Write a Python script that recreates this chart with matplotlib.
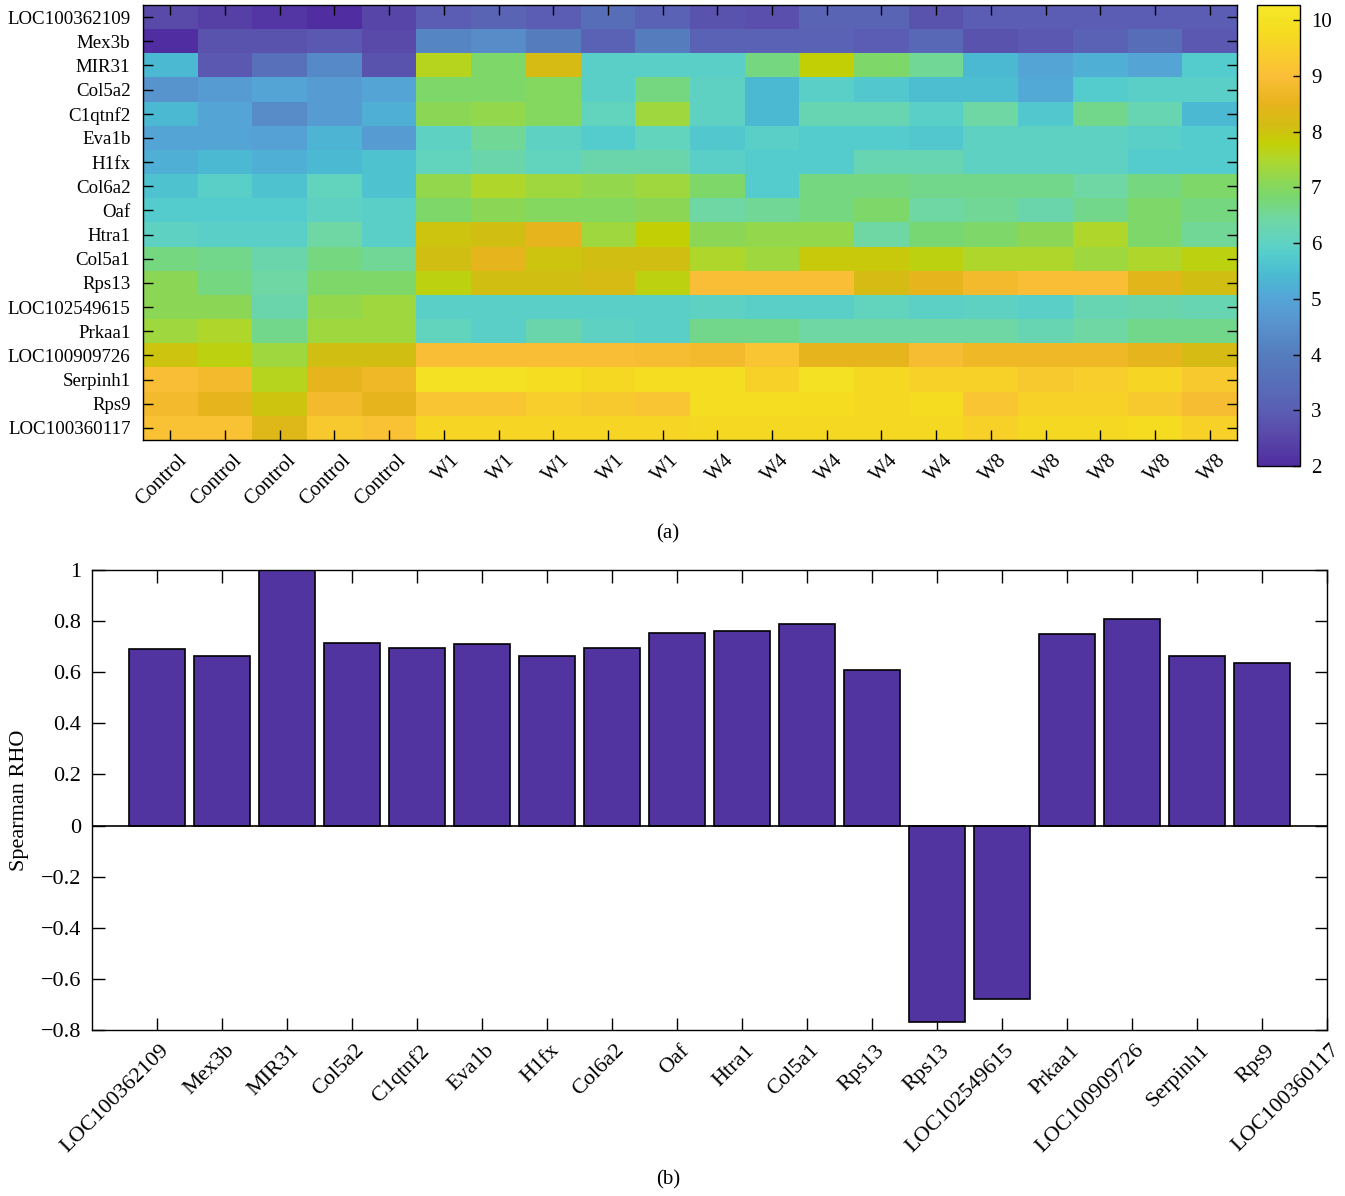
import matplotlib
matplotlib.use('Agg')
import matplotlib.pyplot as plt
import matplotlib.transforms as mtransforms
import numpy as np
from matplotlib.colors import LinearSegmentedColormap

plt.rcParams['font.family'] = ['Liberation Serif', 'DejaVu Serif']
plt.rcParams['font.size'] = 14

genes = ['LOC100362109', 'Mex3b', 'MIR31', 'Col5a2', 'C1qtnf2', 'Eva1b', 'H1fx',
         'Col6a2', 'Oaf', 'Htra1', 'Col5a1', 'Rps13', 'LOC102549615', 'Prkaa1',
         'LOC100909726', 'Serpinh1', 'Rps9', 'LOC100360117']
samples = ['Control'] * 5 + ['W1'] * 5 + ['W4'] * 5 + ['W8'] * 5

# expression, one row per gene, columns = samples
expr = [
    [2.6, 2.4, 2.2, 2.0, 2.5, 3.0, 3.2, 3.0, 3.5, 3.1, 2.8, 2.7, 3.2, 3.2, 2.8, 3.0, 3.0, 3.0, 3.0, 3.0],
    [2.0, 2.8, 2.8, 2.9, 2.6, 4.2, 4.4, 4.0, 3.1, 4.0, 3.1, 3.1, 3.1, 3.0, 3.3, 2.8, 2.9, 3.1, 3.5, 2.9],
    [5.4, 2.9, 3.6, 4.3, 2.8, 7.6, 6.9, 8.2, 5.9, 5.9, 5.9, 6.7, 7.8, 6.9, 6.5, 5.4, 5.0, 5.2, 5.0, 5.8],
    [4.6, 4.8, 5.0, 4.8, 5.0, 6.9, 6.9, 7.0, 5.9, 6.7, 6.0, 5.4, 5.9, 5.7, 5.5, 5.5, 5.1, 5.8, 5.9, 5.9],
    [5.4, 5.0, 4.4, 4.8, 5.2, 7.1, 7.2, 7.0, 6.1, 7.3, 6.0, 5.4, 6.2, 6.2, 5.9, 6.4, 5.7, 6.6, 6.2, 5.4],
    [5.0, 5.0, 4.9, 5.3, 4.8, 6.0, 6.5, 6.0, 5.8, 6.1, 5.7, 5.9, 5.8, 5.8, 5.7, 6.0, 6.0, 6.0, 5.9, 5.8],
    [5.2, 5.4, 5.2, 5.4, 5.6, 6.1, 6.3, 6.1, 6.3, 6.3, 5.9, 5.8, 5.8, 6.2, 6.2, 6.0, 6.0, 6.0, 5.8, 5.8],
    [5.6, 5.9, 5.6, 6.1, 5.6, 7.2, 7.5, 7.3, 7.2, 7.3, 6.9, 5.8, 6.7, 6.7, 6.6, 6.6, 6.6, 6.4, 6.7, 6.9],
    [5.8, 5.8, 5.8, 6.0, 5.9, 6.9, 7.1, 7.0, 7.0, 7.1, 6.4, 6.5, 6.7, 6.9, 6.4, 6.5, 6.3, 6.6, 6.9, 6.7],
    [6.0, 5.9, 5.9, 6.4, 5.9, 8.0, 8.1, 8.5, 7.3, 7.8, 7.1, 7.2, 7.2, 6.4, 6.8, 6.9, 7.1, 7.5, 6.9, 6.5],
    [6.7, 6.6, 6.3, 6.7, 6.5, 8.1, 8.5, 8.0, 8.1, 8.1, 7.5, 7.3, 7.9, 7.9, 7.7, 7.5, 7.5, 7.3, 7.5, 7.7],
    [7.1, 6.7, 6.4, 6.9, 6.9, 7.7, 8.1, 8.1, 8.2, 7.7, 9.0, 9.0, 9.0, 8.2, 8.5, 8.8, 9.0, 9.0, 8.4, 8.1],
    [7.1, 7.1, 6.3, 7.2, 7.3, 5.9, 5.9, 5.9, 5.9, 5.9, 6.0, 5.9, 5.9, 6.1, 5.95, 6.0, 5.9, 6.2, 6.3, 6.2],
    [7.3, 7.5, 6.6, 7.3, 7.3, 6.1, 5.9, 6.3, 6.0, 5.9, 6.6, 6.6, 6.4, 6.4, 6.4, 6.4, 6.2, 6.4, 6.6, 6.6],
    [8.0, 7.7, 7.3, 8.1, 8.1, 9.0, 9.0, 9.0, 9.0, 8.9, 8.8, 9.2, 8.5, 8.5, 8.9, 8.7, 8.7, 8.7, 8.5, 8.2],
    [9.0, 8.8, 7.6, 8.5, 8.7, 10.0, 10.0, 9.9, 9.7, 9.9, 9.9, 9.5, 10.0, 9.7, 9.5, 9.5, 9.3, 9.4, 9.6, 9.3],
    [8.8, 8.5, 8.0, 8.8, 8.5, 9.2, 9.2, 9.4, 9.3, 9.2, 9.9, 9.9, 9.8, 9.7, 9.8, 9.2, 9.5, 9.5, 9.3, 8.9],
    [9.1, 9.1, 8.3, 9.3, 9.1, 9.6, 9.6, 9.6, 9.6, 9.6, 9.7, 9.7, 9.7, 9.7, 9.7, 9.5, 9.7, 9.7, 9.8, 9.5],
]

bar_labels = ['LOC100362109', 'Mex3b', 'MIR31', 'Col5a2', 'C1qtnf2', 'Eva1b', 'H1fx', 'Col6a2',
              'Oaf', 'Htra1', 'Col5a1', 'Rps13', 'Rps13', 'LOC102549615', 'Prkaa1',
              'LOC100909726', 'Serpinh1', 'Rps9', 'LOC100360117']
rho = [0.69, 0.665, 1.0, 0.715, 0.695, 0.71, 0.665, 0.695, 0.755, 0.76, 0.79, 0.61,
       -0.77, -0.68, 0.75, 0.81, 0.665, 0.635]

vmin, vmax = 2.0, 10.27

# colour anchors (value, rgb)
anchors = [
    (2.0, (80, 45, 160)), (2.6, (90, 75, 170)), (3.0, (90, 95, 180)), (4.0, (85, 125, 190)),
    (4.5, (88, 145, 205)), (5.0, (85, 165, 215)), (5.4, (75, 185, 210)), (5.8, (85, 205, 205)),
    (6.0, (95, 210, 195)), (6.4, (110, 215, 165)), (6.8, (120, 215, 115)), (7.1, (140, 215, 85)),
    (7.5, (175, 215, 45)), (7.8, (195, 208, 5)), (8.1, (210, 190, 20)), (8.5, (230, 180, 28)),
    (9.0, (250, 190, 55)), (9.4, (248, 205, 45)), (9.8, (245, 220, 32)), (10.27, (245, 232, 40)),
]
cmap = LinearSegmentedColormap.from_list(
    'pal', [((v - vmin) / (vmax - vmin), tuple(c / 255 for c in rgb)) for v, rgb in anchors])

fig = plt.figure(figsize=(13.45, 11.96), dpi=100)

# (a) heatmap
ax1 = fig.add_axes([143 / 1345, 1 - 440 / 1196, 1094 / 1345, 435 / 1196])
data = np.array(expr)
im = ax1.imshow(data, cmap=cmap, vmin=vmin, vmax=vmax, aspect='auto',
                interpolation='nearest')
ax1.set_xticks(np.arange(len(samples)))
ax1.set_xticklabels(samples, rotation=45, ha='right', rotation_mode='anchor', fontsize=15)
ax1.set_yticks(np.arange(len(genes)))
ax1.set_yticklabels(genes, fontsize=13.6)
ax1.tick_params(direction='in', length=7, width=1, top=True, right=True)
ax1.tick_params(axis='y', pad=9)
ax1.tick_params(axis='x', pad=8)
shift = mtransforms.ScaledTranslation(0.07, 0, fig.dpi_scale_trans)
for lab in ax1.get_xticklabels():
    lab.set_transform(lab.get_transform() + shift)
for s in ax1.spines.values():
    s.set_linewidth(1.0)

cax = fig.add_axes([1257 / 1345, 1 - 466 / 1196, 43 / 1345, 461 / 1196])
cb = fig.colorbar(im, cax=cax, ticks=np.arange(2, 11))
cb.ax.tick_params(direction='in', length=5, width=1, labelsize=15, pad=8)
cb.outline.set_linewidth(1.0)
fig.text(668 / 1345, 1 - 534 / 1196, '(a)', ha='center', va='center', fontsize=15)

# (b) Spearman correlation bars
ax2 = fig.add_axes([92 / 1345, 1 - 1030 / 1196, 1235 / 1345, 460 / 1196])
xs = np.arange(1, len(rho) + 1)
ax2.bar(xs, rho, width=0.85, color='#5234a0', edgecolor='black', linewidth=1.2, zorder=2)
ax2.axhline(0, color='black', linewidth=1.2, zorder=3)
ax2.set_xlim(0, 19)
ax2.set_ylim(-0.8, 1)
ax2.set_yticks(np.arange(-0.8, 1.01, 0.2))
ax2.set_yticklabels(['\u22120.8', '\u22120.6', '\u22120.4', '\u22120.2', '0',
                     '0.2', '0.4', '0.6', '0.8', '1'], fontsize=16)
ax2.set_xticks(np.arange(1, len(bar_labels) + 1))
ax2.set_xticklabels(bar_labels, rotation=45, ha='right', rotation_mode='anchor', fontsize=16)
ax2.tick_params(direction='in', length=9, width=1, top=True, right=True)
ax2.tick_params(axis='x', pad=8)
ax2.tick_params(axis='y', pad=8)
shift2 = mtransforms.ScaledTranslation(0.03, 0, fig.dpi_scale_trans)
for lab in ax2.get_xticklabels():
    lab.set_transform(lab.get_transform() + shift2)
ax2.set_ylabel('Spearman RHO', fontsize=16, labelpad=8)
for s in ax2.spines.values():
    s.set_linewidth(1.0)
fig.text(668 / 1345, 1 - 1180 / 1196, '(b)', ha='center', va='center', fontsize=15)

fig.savefig('out.png', dpi=100)
